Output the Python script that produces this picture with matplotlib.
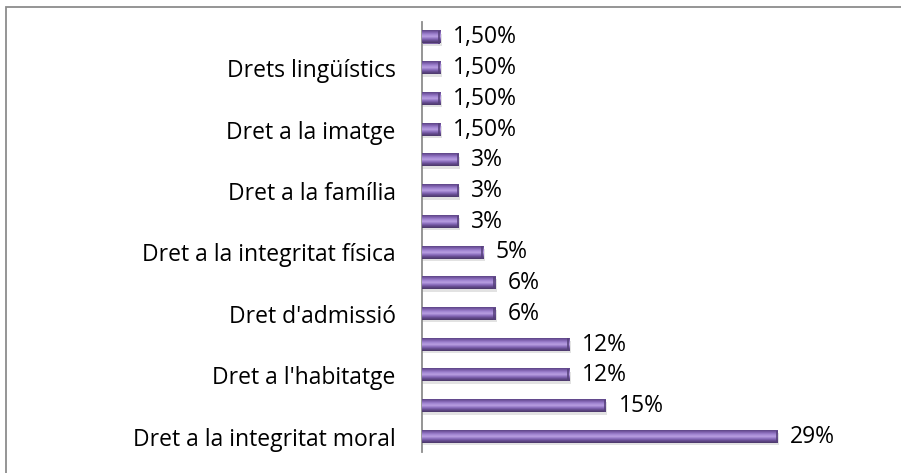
import matplotlib
matplotlib.use("Agg")
import matplotlib.pyplot as plt
import numpy as np
from matplotlib.colors import LinearSegmentedColormap
from matplotlib.patches import Rectangle

# Data (bottom to top)
categories = ["Dret a la integritat moral", "", "Dret a l'habitatge", "",
              "Dret d'admissió", "", "Dret a la integritat física", "",
              "Dret a la família", "", "Dret a la imatge", "",
              "Drets lingüístics", ""]
values = [29, 15, 12, 12, 6, 6, 5, 3, 3, 3, 1.5, 1.5, 1.5, 1.5]
value_labels = ["29%", "15%", "12%", "12%", "6%", "6%", "5%", "3%", "3%", "3%",
                "1,50%", "1,50%", "1,50%", "1,50%"]

plt.rcParams['font.family'] = ['Open Sans', 'DejaVu Sans']
FS = 16.5

fig = plt.figure(figsize=(9.01, 4.73), dpi=100)
# outer frame
fig.patches.append(Rectangle((6/901, -0.05), 1.0, (473-7)/473 + 0.05,
                             transform=fig.transFigure, fill=False,
                             edgecolor='#8c8c8c', linewidth=1.3))

ax = fig.add_axes([422/901, 21/473, 368/901, 430/473])
y = np.arange(len(values))
bars = ax.barh(y, values, height=0.40, color='#7a5fa3', edgecolor='none', zorder=2)

cmap = LinearSegmentedColormap.from_list(
    'cyl', ['#4a3868', '#634a8c', '#8a6dbd', '#b9a0e2', '#a286d2', '#8062b0', '#5c4585'])
grad = np.linspace(0, 1, 64).reshape(-1, 1)
for b in bars:
    x0, y0 = b.get_x(), b.get_y()
    w, h = b.get_width(), b.get_height()
    # shadow
    ax.add_patch(Rectangle((x0, y0 - 0.08), w + 0.12, h, color='#cfcfcf',
                           alpha=0.6, zorder=1, linewidth=0))
    ax.imshow(grad, cmap=cmap, aspect='auto', extent=(x0, x0 + w, y0, y0 + h),
              origin='lower', zorder=3, interpolation='bilinear')
    # end cap darker edge
    ax.add_patch(Rectangle((x0 + w - 0.18, y0), 0.18, h, color='#55407a',
                           alpha=0.8, zorder=4, linewidth=0))

for yi, v, lab in zip(y, values, value_labels):
    ax.annotate(lab, xy=(v, yi), xytext=(9, 0), textcoords='offset points',
                va='center', ha='left', fontsize=FS, color='black',
                annotation_clip=False)

ax.set_xlim(0, 30)
ax.set_ylim(-0.5, len(values) - 0.5)
ax.set_yticks(y)
ax.set_yticklabels(categories, fontsize=FS)
ax.tick_params(axis='y', length=0, pad=19)
ax.set_xticks([])
for s in ['top', 'right', 'bottom']:
    ax.spines[s].set_visible(False)
ax.spines['left'].set_color('#8c8c8c')
ax.spines['left'].set_linewidth(1.3)
ax.set_facecolor('none')

fig.savefig('out.png', dpi=100)
